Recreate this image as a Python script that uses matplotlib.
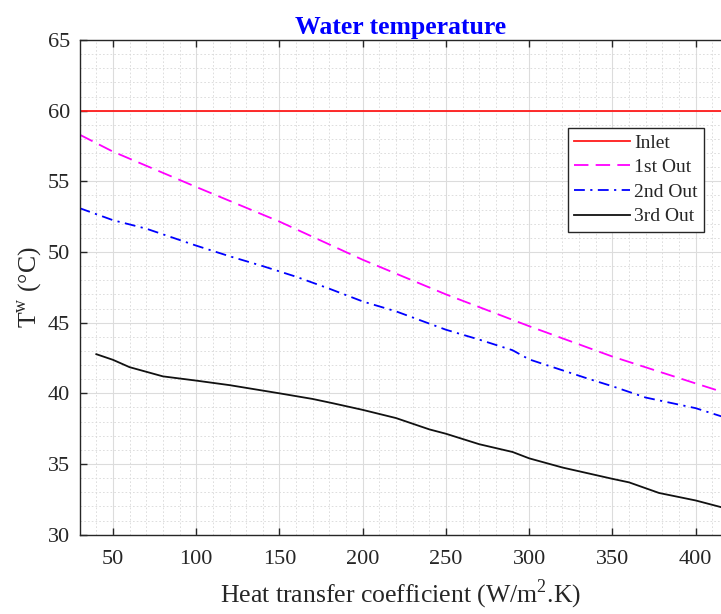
import matplotlib
matplotlib.use("Agg")
import matplotlib.pyplot as plt
from matplotlib.ticker import MultipleLocator

plt.rcParams["font.family"] = ["Liberation Serif", "DejaVu Serif"]
plt.rcParams["mathtext.fontset"] = "custom"
plt.rcParams["mathtext.rm"] = "Liberation Serif"

# data
x_inlet = [30, 420]
t_inlet = [60, 60]

x_out1 = [30, 50, 100, 150, 200, 250, 300, 350, 400, 420]
t_out1 = [58.3, 57.1, 54.6, 52.15, 49.45, 47.0, 44.75, 42.6, 40.7, 39.95]

x_out2 = [30, 50, 70, 100, 120, 140, 160, 180, 200, 220, 250, 270, 290, 300,
          335, 350, 370, 400, 420]
t_out2 = [53.1, 52.25, 51.65, 50.45, 49.7, 49.0, 48.25, 47.4, 46.5, 45.8,
          44.5, 43.8, 43.05, 42.4, 41.05, 40.5, 39.7, 38.95, 38.2]

x_out3 = [40, 50, 60, 80, 100, 120, 150, 170, 182, 200, 220, 240, 250, 270,
          290, 300, 320, 350, 360, 378, 400, 420]
t_out3 = [42.77, 42.37, 41.85, 41.2, 40.9, 40.58, 40.0, 39.6, 39.3, 38.83,
          38.25, 37.45, 37.14, 36.4, 35.85, 35.4, 34.75, 33.95, 33.7, 32.95,
          32.42, 31.8]

axis_col = "#262626"

fig = plt.figure(figsize=(7.21, 6.14), dpi=100)
ax = fig.add_axes([0.1105, 0.1292, 0.8895, 0.8057])

ax.plot(x_inlet, t_inlet, color="#ff1a1a", lw=1.3, label="Inlet")
ax.plot(x_out1, t_out1, color="#ff00ff", lw=1.3, dashes=(8, 4), label="1st Out")
ax.plot(x_out2, t_out2, color="#0000ff", lw=1.3, dashes=(6, 3, 1.2, 3),
        label="2nd Out")
ax.plot(x_out3, t_out3, color="#111111", lw=1.3, label="3rd Out")

ax.set_xlim(30, 415.2)
ax.set_ylim(30, 65)
ax.xaxis.set_major_locator(MultipleLocator(50))
ax.xaxis.set_minor_locator(MultipleLocator(10))
ax.yaxis.set_major_locator(MultipleLocator(5))
ax.yaxis.set_minor_locator(MultipleLocator(1))

ax.grid(which="major", color="#dcdcdc", lw=0.8, ls="-")
ax.grid(which="minor", color="#d8d8d8", lw=0.6, ls=(0, (2, 2.5)))
ax.set_axisbelow(True)

ax.spines["right"].set_visible(False)
for s in ["left", "top", "bottom"]:
    ax.spines[s].set_color(axis_col)
    ax.spines[s].set_linewidth(1.0)
ax.tick_params(which="both", direction="in", top=True, right=False,
               colors=axis_col, labelsize=16)
ax.tick_params(which="major", length=5, width=1)
ax.tick_params(which="minor", length=0)
ax.tick_params(axis="x", pad=11)
ax.tick_params(axis="y", pad=7)
for lbl in ax.get_xticklabels() + ax.get_yticklabels():
    lbl.set_color(axis_col)

ax.set_title("Water temperature", color="#0000ff", fontweight="bold",
             fontsize=18.5, pad=4)
ax.set_xlabel("Heat transfer coefficient (W/m$^{2}$.K)", fontsize=18.5,
              color=axis_col, labelpad=6)
ax.set_ylabel("T$^{\\rm w}$ ($\\degree$C)", fontsize=18.5, color=axis_col,
              labelpad=3)

leg = ax.legend(loc="upper right", bbox_to_anchor=(0.9735, 0.8227),
                borderaxespad=0, fontsize=14, fancybox=False, framealpha=1,
                edgecolor=axis_col, handlelength=2.9, handletextpad=0.2,
                labelspacing=0.36, borderpad=0.32)
leg.get_frame().set_linewidth(1.0)
for t in leg.get_texts():
    t.set_color(axis_col)

fig.savefig("out.png", dpi=100)
